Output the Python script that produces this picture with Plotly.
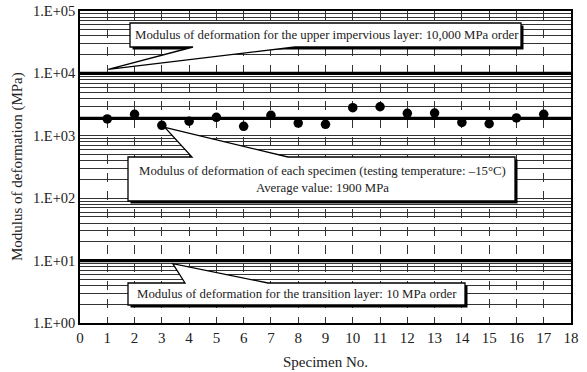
import math
import plotly.graph_objects as go

# Specimen results (modulus of deformation, MPa)
specimens = list(range(1, 18))
modulus = [1860, 2210, 1470, 1710, 1980, 1420, 2130, 1600, 1530,
           2820, 2920, 2290, 2320, 1640, 1560, 1930, 2210]

# Reference levels drawn as heavy horizontal lines
level_upper = 10000      # upper impervious layer
level_average = 1900     # average of specimens
level_transition = 10    # transition layer
x_span = [0, 18]

decades = [0, 1, 2, 3, 4, 5]
decade_labels = ["1.E+00", "1.E+01", "1.E+02", "1.E+03", "1.E+04", "1.E+05"]

FONT = "Liberation Serif"

W, H = 587, 372
L, R, T, B = 80, 16, 11, 49
PW, PH = W - L - R, H - T - B

# log grid: every 1..9 x 10^d
tickvals, ticktext = [], []
for d in decades[:-1]:
    for k in range(1, 10):
        tickvals.append(k * 10 ** d)
        ticktext.append(decade_labels[d] if k == 1 else "")
tickvals.append(10 ** decades[-1])
ticktext.append(decade_labels[-1])


def px_x(x):
    return (x - L) / PW


def px_y(y):
    return (T + PH - y) / PH


def data_px(x, v):
    """Data position -> pixel position inside the page."""
    return L + x / 18 * PW, T + (5 - math.log10(v)) / 5 * PH


fig = go.Figure()

for lvl in (level_upper, level_average, level_transition):
    fig.add_trace(go.Scatter(x=x_span, y=[lvl, lvl], mode="lines",
                             line=dict(color="black", width=3.2),
                             hoverinfo="skip", showlegend=False))

fig.add_trace(go.Scatter(x=specimens, y=modulus, mode="markers",
                         marker=dict(color="black", size=9.5),
                         showlegend=False))


def callout(left, right, top, bottom, base_l, base_r, tip, above):
    """Box with a wedge pointer; returns shapes in paper units."""
    tx, ty = tip
    pts = [(left, top)]
    if above:
        pts += [(base_l, top), (tx, ty), (base_r, top)]
    pts += [(right, top), (right, bottom)]
    if not above:
        pts += [(base_r, bottom), (tx, ty), (base_l, bottom)]
    pts += [(left, bottom)]
    path = "M " + " L ".join(f"{px_x(x):.5f},{px_y(y):.5f}" for x, y in pts) + " Z"
    shadow = dict(type="rect", xref="paper", yref="paper",
                  x0=px_x(left + 2.5), x1=px_x(right + 2.5),
                  y0=px_y(top + 2.5), y1=px_y(bottom + 2.5),
                  fillcolor="black", line=dict(width=0))
    body = dict(type="path", xref="paper", yref="paper", path=path,
                fillcolor="white", line=dict(color="black", width=1.3))
    return [shadow, body]


shapes = []
# upper impervious layer callout
tip1 = data_px(1, level_upper)
shapes += callout(130, 521, 23, 47, 193, 295, (tip1[0] + 1, tip1[1] - 4), above=False)
# specimen callout, pointing at specimen 3
tip2 = data_px(specimens[2], modulus[2])
shapes += callout(128, 515, 157, 201, 192, 288, (tip2[0] + 3, tip2[1] + 2), above=True)
# transition layer callout
tip3 = data_px(3.4, level_transition)
shapes += callout(128, 465, 283, 305, 185, 268, (tip3[0], tip3[1] + 3), above=True)

box_font = dict(family=FONT, size=12.8, color="#222")
annotations = [
    dict(text="Modulus of deformation for the upper impervious layer: 10,000 MPa order",
         x=px_x(327), y=px_y(35), font=box_font),
    dict(text="Modulus of deformation of each specimen (testing temperature: \u201315\u00b0C)"
              "<br>Average value: 1900 MPa",
         x=px_x(322), y=px_y(179), font=box_font),
    dict(text="Modulus of deformation for the transition layer: 10 MPa order",
         x=px_x(297), y=px_y(294), font=box_font),
    # axis titles
    dict(text="Specimen No.", x=px_x(325), y=px_y(362),
         font=dict(family=FONT, size=15, color="#222")),
    dict(text="Modulus of deformation (MPa)", x=px_x(17), y=px_y(167), textangle=-90,
         font=dict(family=FONT, size=15, color="#222")),
]
for a in annotations:
    a.update(xref="paper", yref="paper", showarrow=False, xanchor="center",
             yanchor="middle")

fig.update_layout(
    width=W, height=H,
    margin=dict(l=L, r=R, t=T, b=B),
    paper_bgcolor="white", plot_bgcolor="white",
    font=dict(family=FONT, size=15, color="#222"),
    shapes=shapes, annotations=annotations,
    showlegend=False,
    xaxis=dict(range=x_span, tick0=0, dtick=1, showgrid=True,
               gridcolor="#333", gridwidth=1, griddash="dash",
               showline=True, mirror=True, linecolor="black", linewidth=1.5,
               ticks="", zeroline=False, automargin=False,
               tickfont=dict(family=FONT, size=15)),
    yaxis=dict(type="log", range=[0, 5], tickmode="array",
               tickvals=tickvals, ticktext=ticktext, showgrid=True,
               gridcolor="#333", gridwidth=1,
               showline=True, mirror=True, linecolor="black", linewidth=1.5,
               ticks="", zeroline=False, automargin=False,
               tickfont=dict(family=FONT, size=14.5)),
)

fig.write_html("out.html")
